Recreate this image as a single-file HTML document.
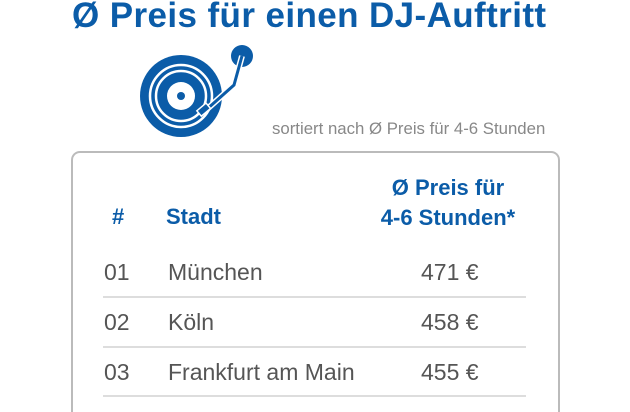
<!DOCTYPE html>
<html style="overflow:hidden"><head><meta charset="utf-8"><style>
html,body{margin:0;width:630px;height:412px;overflow:hidden}
body{background:#fff;font-family:"Liberation Sans",sans-serif;position:relative}
.a{position:absolute;white-space:nowrap}
.t{color:#0b5ca8;font-weight:bold}
.r{color:#555;font-size:23px}
.sep{position:absolute;left:103px;width:423px;height:2px;background:#ddd}
</style></head><body>
<div class="a t" style="left:72px;top:-4px;font-size:35px;letter-spacing:0.4px">Ø Preis für einen DJ-Auftritt</div>
<svg class="a" style="left:130px;top:40px" width="140" height="110">
<circle cx="51" cy="56" r="41" fill="#0b5ca8"/>
<circle cx="51" cy="56" r="31" fill="none" stroke="#fff" stroke-width="2.5"/>
<circle cx="51" cy="56" r="25" fill="none" stroke="#fff" stroke-width="2.5"/>
<circle cx="51" cy="56" r="14" fill="#fff"/>
<circle cx="51" cy="56" r="4" fill="#0b5ca8"/>
<circle cx="112" cy="16" r="11" fill="#0b5ca8"/>
<polyline points="112,16 104,45 76,70" fill="none" stroke="#fff" stroke-width="6"/>
<polyline points="112,16 104,45 76,70" fill="none" stroke="#0b5ca8" stroke-width="3"/>
<rect x="68" y="66" width="12" height="7" fill="#0b5ca8" stroke="#fff" stroke-width="1.5" transform="rotate(-40 74 70)"/>
</svg>
<div class="a" style="left:272px;top:119px;font-size:16.8px;color:#888">sortiert nach Ø Preis für 4-6 Stunden</div>
<div class="a" style="left:71px;top:151px;width:485px;height:270px;border:2px solid #bbb;border-bottom:none;border-radius:9px 9px 0 0"></div>
<div class="a t" style="left:112px;top:204px;font-size:22px">#</div>
<div class="a t" style="left:166px;top:204px;font-size:22px">Stadt</div>
<div class="a t" style="left:368px;top:173px;width:160px;text-align:center;font-size:22px;line-height:30px">Ø Preis für<br>4-6 Stunden*</div>
<div class="a r" style="left:104px;top:259px">01</div>
<div class="a r" style="left:168px;top:259px">München</div>
<div class="a r" style="left:421px;top:259px">471 €</div>
<div class="sep" style="top:296px"></div>
<div class="a r" style="left:104px;top:309px">02</div>
<div class="a r" style="left:168px;top:309px">Köln</div>
<div class="a r" style="left:421px;top:309px">458 €</div>
<div class="sep" style="top:346px"></div>
<div class="a r" style="left:104px;top:359px">03</div>
<div class="a r" style="left:168px;top:359px">Frankfurt am Main</div>
<div class="a r" style="left:421px;top:359px">455 €</div>
<div class="sep" style="top:395px"></div>
</body></html>
